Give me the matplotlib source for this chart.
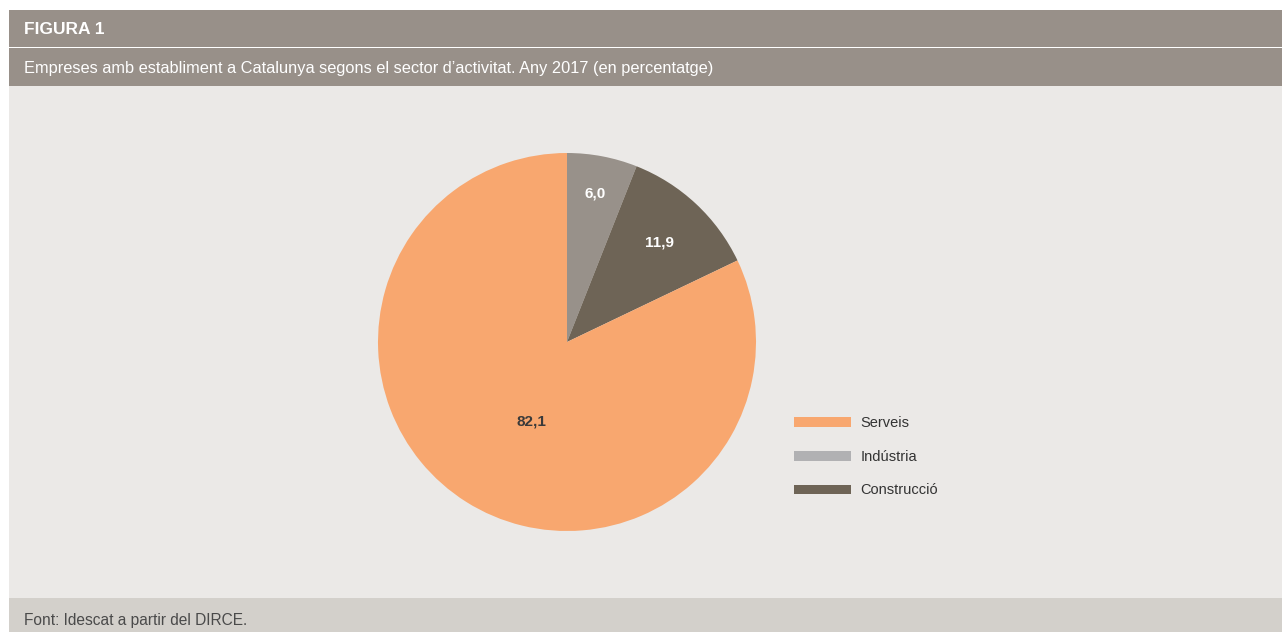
import numpy as np
import matplotlib.pyplot as plt
from matplotlib.patches import Rectangle, Patch

plt.rcParams['font.family'] = ['Liberation Sans', 'DejaVu Sans']

sectors = ["Serveis", "Indústria", "Construcció"]
shares = [82.1, 6.0, 11.9]
pie_colors = ["#f8a76f", "#98918a", "#6e6456"]
legend_colors = ["#f8a76f", "#b1b1b3", "#6e6456"]
label_colors = ["#3a3a3a", "white", "white"]
label_radius = [0.50, 0.80, 0.72]

title = "FIGURA 1"
subtitle = "Empreses amb establiment a Catalunya segons el sector d’activitat. Any 2017 (en percentatge)"
source = "Font: Idescat a partir del DIRCE."

W, H = 1282, 632
fig = plt.figure(figsize=(W / 100, H / 100), dpi=100)
fig.patch.set_facecolor("white")


def band(x0, y0, x1, y1, color):
    fig.add_artist(Rectangle((x0 / W, 1 - y1 / H), (x1 - x0) / W, (y1 - y0) / H,
                             transform=fig.transFigure, facecolor=color,
                             edgecolor="none", zorder=0))


band(9, 10, W, 47, "#989089")
band(9, 48, W, 86, "#989089")
band(9, 86, W, 598, "#ebe9e7")
band(9, 598, W, H, "#d3d0cb")

fig.text(24 / W, 1 - 30 / H, title, color="white", fontsize=12.5, fontweight="bold",
         va="center", ha="left")
fig.text(24 / W, 1 - 68 / H, subtitle, color="white", fontsize=11.8,
         va="center", ha="left")
fig.text(24 / W, 1 - 621 / H, source, color="#4a4a4a", fontsize=11.2,
         va="center", ha="left")

# pie: Indústria first from 12 o'clock, clockwise
order = [1, 2, 0]
vals = [shares[i] for i in order]
cols = [pie_colors[i] for i in order]
cx, cy, r = 567, 342, 189
ax = fig.add_axes([(cx - r) / W, 1 - (cy + r) / H, 2 * r / W, 2 * r / H])
wedges, _ = ax.pie(vals, colors=cols, startangle=90, counterclock=False,
                   radius=1, wedgeprops=dict(linewidth=0))
ax.set_xlim(-1, 1)
ax.set_ylim(-1, 1)
ax.set_aspect("equal")
ax.axis("off")

for w, i in zip(wedges, order):
    ang = np.deg2rad((w.theta1 + w.theta2) / 2)
    rr = label_radius[i]
    ax.text(rr * np.cos(ang) + (0.08 if i == 0 else 0), rr * np.sin(ang),
            f"{shares[i]:.1f}".replace(".", ","),
            ha="center", va="center", fontsize=11, fontweight="bold",
            color=label_colors[i])

handles = [Patch(facecolor=c, edgecolor="none", label=s)
           for s, c in zip(sectors, legend_colors)]
fig.legend(handles=handles, loc="upper left",
           bbox_to_anchor=(781 / W, 1 - 403 / H), frameon=False,
           fontsize=10.5, handlelength=3.9, handleheight=0.65,
           handletextpad=0.65, labelspacing=1.35, labelcolor="#333333")

fig.savefig("out.png", dpi=100, facecolor="white")
